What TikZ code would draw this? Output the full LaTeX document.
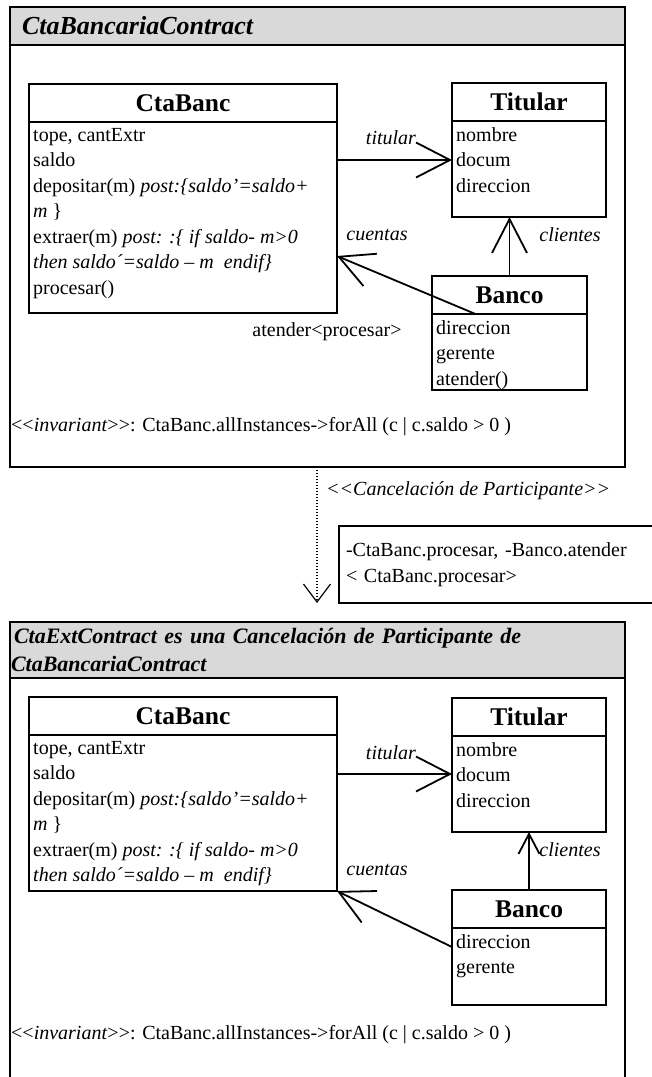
\documentclass[tikz,border=0pt]{standalone}
\usepackage{fontspec}
\setmainfont{Liberation Serif}[Ligatures=TeXOff]
\usetikzlibrary{positioning, calc, arrows.meta}

\newcommand{\fnorm}{\fontsize{20}{25.5}\selectfont}
\newcommand{\ftit}{\fontsize{25.5}{30}\selectfont\bfseries}
\newcommand{\fcab}{\fontsize{26}{30}\selectfont\bfseries\itshape}
\newcommand{\fcabdos}{\fontsize{22}{28}\selectfont\bfseries\itshape}

\tikzset{
  marco/.style={draw, line width=2pt, inner sep=0pt, outer sep=0pt, anchor=north west},
  cabecera/.style={marco, fill=black!15, align=left},
  clase/.style={draw, line width=2pt, inner sep=0pt, outer sep=0pt, anchor=north west},
  titulo/.style={font=\ftit, minimum height=38pt, inner sep=0pt, outer sep=0pt},
  atributos/.style={font=\fnorm, align=left, anchor=north west, inner sep=0pt},
  rol/.style={font=\fnorm\itshape, inner sep=0pt},
  texto/.style={font=\fnorm, inner sep=0pt},
  nota/.style={draw, line width=2pt, anchor=north west, minimum height=77pt, text width=320pt, inner xsep=7pt, align=left, font=\fnorm},
  flecha/.style={line width=1.8pt, -{Straight Barb[length=34pt,width=35pt]}},
  flechita/.style={line width=1.8pt, -{Straight Barb[length=20pt,width=21pt]}},
  dependencia/.style={line width=1.2pt, dash pattern=on 1.2pt off 1.8pt, -{Straight Barb[length=18pt,width=27pt]}}
}

\begin{document}
\begin{tikzpicture}[x=1pt, y=-1pt]
\useasboundingbox (0,0) rectangle (652,1077);

% Contrato original
\node[marco, minimum width=615pt, minimum height=460pt] (k1) at (10,7) {};
\node[cabecera, minimum width=615pt, minimum height=38pt, text width=591pt, inner xsep=12pt, font=\fcab] (k1h) at (10,7) {CtaBancariaContract};

% CtaBanc
\node[clase, minimum width=308pt, minimum height=229pt] (cta1) at (29,84) {};
\node[titulo, below=0pt of cta1.north] (cta1t) {CtaBanc};
\draw[line width=2pt] (cta1t.south -| cta1.west) -- (cta1t.south -| cta1.east);
\node[atributos] (cta1a) at ($(cta1t.south -| cta1.west)+(4,6)$) {tope, cantExtr\\saldo\\depositar(m) \textit{post:\{saldo’=saldo+}\\\textit{m }\}\\extraer(m) \textit{post: :\{ if saldo- m>0}\\\textit{then saldo´=saldo – m\ \ endif\}}\\procesar()};

% Titular
\node[clase, minimum width=154pt, minimum height=134pt] (tit1) at (452,83) {};
\node[titulo, below=0pt of tit1.north] (tit1t) {Titular};
\draw[line width=2pt] (tit1t.south -| tit1.west) -- (tit1t.south -| tit1.east);
\node[atributos] (tit1a) at ($(tit1t.south -| tit1.west)+(4,6)$) {nombre\\docum\\direccion};

% Banco
\node[clase, minimum width=155pt, minimum height=114pt] (ban1) at (432,276) {};
\node[titulo, below=0pt of ban1.north] (ban1t) {Banco};
\draw[line width=2pt] (ban1t.south -| ban1.west) -- (ban1t.south -| ban1.east);
\node[atributos] (ban1a) at ($(ban1t.south -| ban1.west)+(4,6)$) {direccion\\gerente\\atender()};

% Asociaciones
\coordinate (docum1) at ($(tit1.north west)+(0,77)$);
\draw[flecha] (cta1.east |- docum1) -- (docum1);
\node[rol] (rtit1) at (391,138) {titular};
\draw[flecha] (ban1.north) -- (ban1.north |- tit1.south);
\node[rol] (rcli1) at (570,235) {clientes};
\coordinate (cuen1) at ($(cta1.south east)+(0,-57)$);
\draw[flecha] (ban1t.south west) -- (cuen1);
\node[rol] (rcue1) at (377,235) {cuentas};
\node[texto] (ate1) at (327,332) {atender<procesar>};
\node[texto, anchor=west] (inv1) at (11,427) {<<\textit{invariant}>>: CtaBanc.allInstances->forAll (c | c.saldo > 0 )};

% Cancelacion de participante
\coordinate (fin) at (317,603);
\draw[dependencia] (k1.south -| fin) -- (fin);
\node[rol, anchor=west] (canc) at (326,491) {<<Cancelación de Participante>>};
\node[nota] (nota) at (338,525) {-CtaBanc.procesar, -Banco.atender\\< CtaBanc.procesar>};

% Contrato resultante
\node[cabecera, minimum width=615pt, minimum height=56pt, text width=613pt, inner xsep=1pt, font=\fcabdos] (k2h) at (10,622) {\hspace*{3pt}CtaExtContract es una Cancelación de Participante de\\CtaBancariaContract};
\coordinate (fondo) at (0,1090);
\draw[line width=2pt] (k2h.south west) -- (k2h.south west |- fondo);
\draw[line width=2pt] (k2h.south east) -- (k2h.south east |- fondo);

% CtaBanc
\node[clase, minimum width=308pt, minimum height=194pt] (cta2) at (29,697) {};
\node[titulo, below=0pt of cta2.north] (cta2t) {CtaBanc};
\draw[line width=2pt] (cta2t.south -| cta2.west) -- (cta2t.south -| cta2.east);
\node[atributos] (cta2a) at ($(cta2t.south -| cta2.west)+(4,6)$) {tope, cantExtr\\saldo\\depositar(m) \textit{post:\{saldo’=saldo+}\\\textit{m }\}\\extraer(m) \textit{post: :\{ if saldo- m>0}\\\textit{then saldo´=saldo – m\ \ endif\}}};

% Titular
\node[clase, minimum width=154pt, minimum height=134pt] (tit2) at (452,698) {};
\node[titulo, below=0pt of tit2.north] (tit2t) {Titular};
\draw[line width=2pt] (tit2t.south -| tit2.west) -- (tit2t.south -| tit2.east);
\node[atributos] (tit2a) at ($(tit2t.south -| tit2.west)+(4,6)$) {nombre\\docum\\direccion};

% Banco
\node[clase, minimum width=154pt, minimum height=115pt] (ban2) at (452,890) {};
\node[titulo, below=0pt of ban2.north] (ban2t) {Banco};
\draw[line width=2pt] (ban2t.south -| ban2.west) -- (ban2t.south -| ban2.east);
\node[atributos] (ban2a) at ($(ban2t.south -| ban2.west)+(4,6)$) {direccion\\gerente};

% Asociaciones
\coordinate (docum2) at ($(tit2.north west)+(0,76)$);
\draw[flecha] (cta2.east |- docum2) -- (docum2);
\node[rol] (rtit2) at (391,753) {titular};
\draw[flechita] (ban2.north) -- (tit2.south);
\node[rol] (rcli2) at (570,850) {clientes};
\coordinate (cuen2) at ($(ban2.north west)+(0,57)$);
\draw[flecha] (cuen2) -- (cta2.south east);
\node[rol] (rcue2) at (377,870) {cuentas};
\node[texto, anchor=west] (inv2) at (11,1035) {<<\textit{invariant}>>: CtaBanc.allInstances->forAll (c | c.saldo > 0 )};

\end{tikzpicture}
\end{document}
